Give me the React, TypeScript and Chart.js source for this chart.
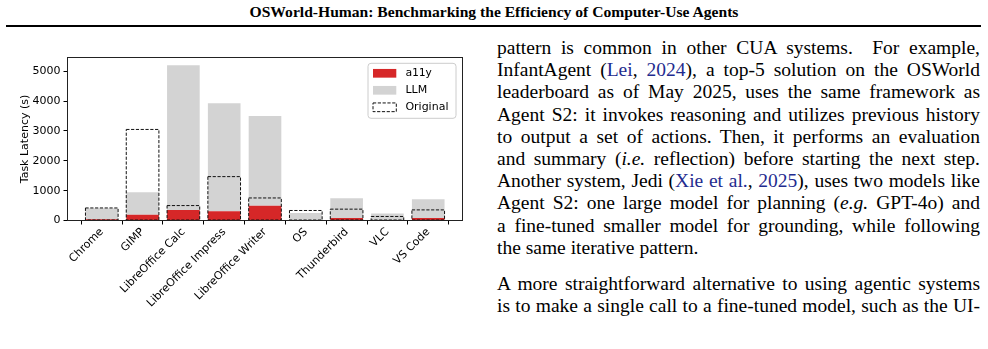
import React, { useEffect, useRef } from 'react';
import { Chart, registerables } from 'chart.js';

Chart.register(...registerables);

const categories = [
  'Chrome',
  'GIMP',
  'LibreOffice Calc',
  'LibreOffice Impress',
  'LibreOffice Writer',
  'OS',
  'Thunderbird',
  'VLC',
  'VS Code',
];
const a11yLatency = [40, 190, 355, 310, 490, 8, 80, 8, 80];
const llmLatency = [370, 760, 4845, 3620, 3010, 247, 665, 227, 630];
const originalLatency = [420, 3050, 500, 1470, 755, 335, 380, 135, 355];
const yTickValues = [0, 1000, 2000, 3000, 4000, 5000];

const AXIS_FONT = { family: 'DejaVu Sans', size: 11 };

const dashedOutline = {
  id: 'dashedOutline',
  afterDatasetsDraw(chart: any) {
    const ctx = chart.ctx;
    const meta = chart.getDatasetMeta(0);
    ctx.save();
    ctx.setLineDash([3.2, 1.6]);
    ctx.lineWidth = 1;
    ctx.strokeStyle = '#111';
    meta.data.forEach((bar: any) => {
      const p = bar.getProps(['x', 'y', 'base', 'width'], true);
      ctx.strokeRect(p.x - p.width / 2, p.y, p.width, p.base - p.y);
    });
    ctx.restore();

    const ca = chart.chartArea;
    ctx.save();
    ctx.lineWidth = 1;
    ctx.strokeStyle = '#222';
    ctx.strokeRect(ca.left, ca.top, ca.right - ca.left, ca.bottom - ca.top);
    ctx.restore();
  },
  afterDraw(chart: any) {
    const ctx = chart.ctx;
    const ca = chart.chartArea;
    const w = 88;
    const h = 55;
    const x0 = ca.right - 6.5 - w;
    const y0 = ca.top + 5.8;
    ctx.save();
    ctx.beginPath();
    if (ctx.roundRect) ctx.roundRect(x0, y0, w, h, 3);
    else ctx.rect(x0, y0, w, h);
    ctx.fillStyle = 'rgba(255,255,255,0.8)';
    ctx.fill();
    ctx.lineWidth = 1;
    ctx.strokeStyle = '#cccccc';
    ctx.stroke();

    const items = [
      { ds: 1, font: 'DejaVu Sans Mono', dashed: false },
      { ds: 2, font: 'DejaVu Sans', dashed: false },
      { ds: 0, font: 'DejaVu Sans', dashed: true },
    ];
    const rows = [10, 27, 44];
    items.forEach((it, k) => {
      const ds = chart.data.datasets[it.ds];
      const cy = y0 + rows[k];
      const hx = x0 + 5;
      const hw = 23.3;
      const hh = 8.7;
      if (it.dashed) {
        ctx.setLineDash([3.2, 1.6]);
        ctx.strokeStyle = '#111';
        ctx.lineWidth = 1;
        ctx.strokeRect(hx, cy - hh / 2, hw, hh);
        ctx.setLineDash([]);
      } else {
        ctx.fillStyle = ds.backgroundColor;
        ctx.fillRect(hx, cy - hh / 2, hw, hh);
      }
      ctx.fillStyle = '#000';
      ctx.font = `11px "${it.font}"`;
      ctx.textBaseline = 'middle';
      ctx.textAlign = 'left';
      ctx.fillText(ds.label, x0 + 37.4, cy);
    });
    ctx.restore();
  },
};

function LatencyChart() {
  const ref = useRef<HTMLCanvasElement | null>(null);
  useEffect(() => {
    if (!ref.current) return;
    const toPoints = (arr: number[]) => arr.map((v, i) => ({ x: i, y: v }));
    const common = { grouped: false, barPercentage: 0.8, categoryPercentage: 1, borderWidth: 0 };
    const chart = new Chart(ref.current, {
      type: 'bar',
      data: {
        datasets: [
          { ...common, label: 'Original', data: toPoints(originalLatency), stack: 'original', backgroundColor: 'rgba(0,0,0,0)' },
          { ...common, label: 'a11y', data: toPoints(a11yLatency), stack: 'agent', backgroundColor: '#d62728' },
          { ...common, label: 'LLM', data: toPoints(llmLatency), stack: 'agent', backgroundColor: '#d3d3d3' },
        ] as any,
      },
      options: {
        animation: false,
        responsive: false,
        layout: { padding: { left: 0, top: 57.5, right: 17.5, bottom: 0 } },
        plugins: { legend: { display: false }, tooltip: { enabled: false } },
        scales: {
          x: {
            type: 'linear',
            min: -0.84,
            max: 8.84,
            stacked: true,
            offset: false,
            border: { display: false },
            grid: { drawOnChartArea: false, drawTicks: true, tickLength: 4, color: '#000', lineWidth: 1 },
            ticks: {
              autoSkip: false,
              minRotation: 45,
              maxRotation: 45,
              padding: 1,
              color: '#000',
              font: AXIS_FONT,
              callback: (v: any) => categories[Number(v)] ?? '',
            },
            afterBuildTicks: (scale: any) => {
              scale.ticks = categories.map((_, i) => ({ value: i }));
            },
            afterFit: (scale: any) => {
              scale.height = 349 - 220.5;
            },
          },
          y: {
            min: 0,
            max: 5460,
            stacked: true,
            border: { display: false },
            grid: { drawOnChartArea: false, drawTicks: true, tickLength: 4, color: '#000', lineWidth: 1 },
            ticks: { padding: 3, color: '#000', font: AXIS_FONT, callback: (v: any) => String(v) },
            afterBuildTicks: (scale: any) => {
              scale.ticks = yTickValues.map((v) => ({ value: v }));
            },
            afterFit: (scale: any) => {
              scale.width = 67.5;
            },
            title: {
              display: true,
              text: 'Task Latency (s)',
              color: '#000',
              font: AXIS_FONT,
              padding: { top: 18.5, bottom: 0 },
            },
          },
        },
      } as any,
      plugins: [dashedOutline],
    });
    return () => chart.destroy();
  }, []);
  return (
    <canvas
      ref={ref}
      width={480}
      height={349}
      style={{ position: 'absolute', left: 0, top: 0, width: 480, height: 349 }}
    />
  );
}

const serif = '"Liberation Serif", "Times New Roman", serif';
const linkColor = '#1f2c8f';

const L = ({ children, last }: { children: React.ReactNode; last?: boolean }) => (
  <div style={{ textAlign: 'justify', textAlignLast: last ? 'left' : 'justify', whiteSpace: 'nowrap' }}>{children}</div>
);

export default function App() {
  return (
    <div style={{ position: 'absolute', left: 0, top: 0, width: 988, height: 349, background: '#fff', overflow: 'hidden' }}>
      <div
        style={{
          position: 'absolute',
          left: 0,
          top: 3,
          width: 988,
          textAlign: 'center',
          fontFamily: serif,
          fontWeight: 'bold',
          fontSize: 15.6,
          lineHeight: '18px',
          color: '#000',
        }}
      >
        OSWorld-Human: Benchmarking the Efficiency of Computer-Use Agents
      </div>
      <div style={{ position: 'absolute', left: 6, top: 25, width: 975, height: 2, background: '#000' }} />
      <LatencyChart />
      <div
        style={{
          position: 'absolute',
          left: 497,
          top: 37,
          width: 483,
          fontFamily: serif,
          fontSize: 19.5,
          lineHeight: '22.2px',
          color: '#000',
        }}
      >
        <L>pattern is common in other CUA systems.&nbsp; For example,</L>
        <L>
          InfantAgent (<span style={{ color: linkColor }}>Lei</span>, <span style={{ color: linkColor }}>2024</span>), a top-5 solution on the OSWorld
        </L>
        <L>leaderboard as of May 2025, uses the same framework as</L>
        <L>Agent S2: it invokes reasoning and utilizes previous history</L>
        <L>to output a set of actions. Then, it performs an evaluation</L>
        <L>
          and summary (<i>i.e.</i> reflection) before starting the next step.
        </L>
        <L>
          Another system, Jedi (<span style={{ color: linkColor }}>Xie et al.</span>, <span style={{ color: linkColor }}>2025</span>), uses two models like
        </L>
        <L>
          Agent S2: one large model for planning (<i>e.g.</i> GPT-4o) and
        </L>
        <L>a fine-tuned smaller model for grounding, while following</L>
        <L last>the same iterative pattern.</L>
        <div style={{ height: 14 }} />
        <L>A more straightforward alternative to using agentic systems</L>
        <L>is to make a single call to a fine-tuned model, such as the UI-</L>
      </div>
    </div>
  );
}
